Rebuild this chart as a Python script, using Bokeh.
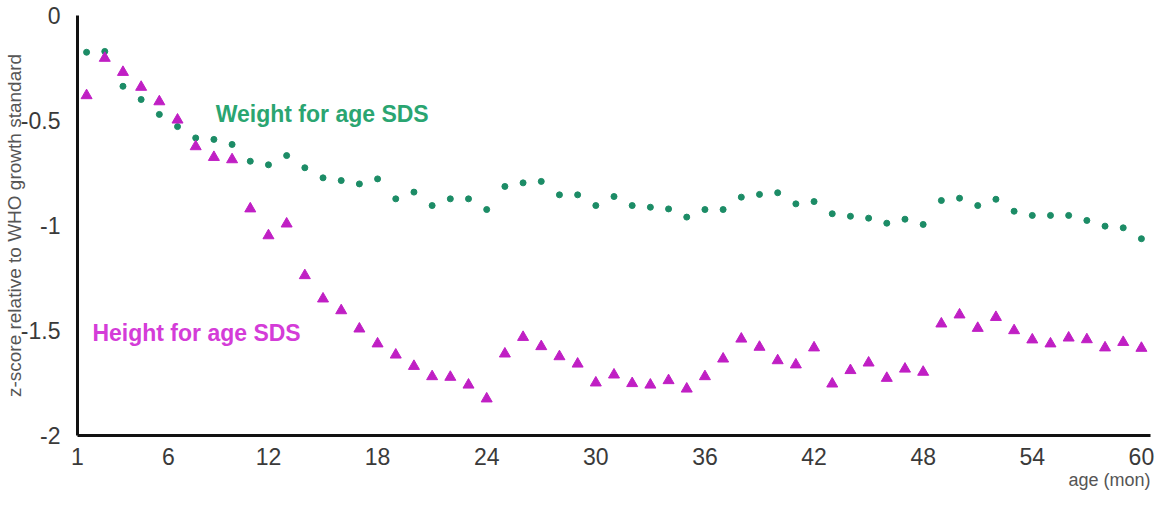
from bokeh.plotting import figure
from bokeh.models import Range1d, FixedTicker, Label, Title
from bokeh.embed import file_html
from bokeh.resources import INLINE

# ---- data -------------------------------------------------------------
age_months = list(range(2, 61))

weight_sds = [
    -0.175, -0.171, -0.337, -0.400, -0.471, -0.529, -0.583, -0.590, -0.614, -0.694,
    -0.711, -0.667, -0.725, -0.773, -0.786, -0.802, -0.778, -0.873, -0.841, -0.905,
    -0.873, -0.873, -0.924, -0.814, -0.797, -0.790, -0.854, -0.854, -0.905, -0.862,
    -0.905, -0.913, -0.921, -0.960, -0.924, -0.924, -0.865, -0.852, -0.844, -0.897,
    -0.886, -0.944, -0.956, -0.965, -0.989, -0.970, -0.995, -0.881, -0.870, -0.905,
    -0.875, -0.932, -0.952, -0.952, -0.952, -0.976, -1.003, -1.011, -1.063,
]

height_sds = [
    -0.381, -0.203, -0.270, -0.341, -0.410, -0.497, -0.624, -0.675, -0.686, -0.920,
    -1.048, -0.992, -1.238, -1.349, -1.405, -1.492, -1.563, -1.616, -1.670, -1.719,
    -1.722, -1.759, -1.825, -1.611, -1.532, -1.576, -1.624, -1.659, -1.749, -1.711,
    -1.752, -1.759, -1.738, -1.778, -1.719, -1.635, -1.540, -1.579, -1.643, -1.663,
    -1.582, -1.754, -1.690, -1.654, -1.727, -1.683, -1.698, -1.468, -1.425, -1.489,
    -1.437, -1.500, -1.544, -1.563, -1.535, -1.543, -1.582, -1.556, -1.584,
]

x_tick_positions = [1.5, 6.5, 12, 18, 24, 30, 36, 42, 48, 54, 60]
x_tick_labels = ["1", "6", "12", "18", "24", "30", "36", "42", "48", "54", "60"]
y_tick_positions = [0, -0.5, -1, -1.5, -2]
y_tick_labels = ["0", "-0.5", "-1", "-1.5", "-2"]

weight_label = "Weight for age SDS"
height_label = "Height for age SDS"
y_title = "z-score relative to WHO growth standard"
x_title = "age (mon)"

# ---- styles -------------------------------------------------------------
FONT = "Liberation Sans"
WEIGHT_COLOR = "#1c8c66"
WEIGHT_TEXT = "#2aa571"
HEIGHT_COLOR = "#c01fc4"
HEIGHT_TEXT = "#d43cd8"
TICK_COLOR = "#3a3a3a"

p = figure(
    width=1166, height=505,
    x_range=Range1d(1.5, 60.5), y_range=Range1d(-2, 0),
    output_backend="svg", toolbar_location=None,
    min_border_left=77, min_border_right=16, min_border_top=15, min_border_bottom=70,
)
p.outline_line_color = None
p.xgrid.visible = False
p.ygrid.visible = False
p.background_fill_color = "white"
p.border_fill_color = "white"

p.scatter(age_months, weight_sds, marker="circle", size=6,
          fill_color=WEIGHT_COLOR, line_color=WEIGHT_COLOR)
p.scatter(age_months, height_sds, marker="triangle", size=11,
          fill_color=HEIGHT_COLOR, line_color=HEIGHT_COLOR)

for ax in (p.xaxis[0], p.yaxis[0]):
    ax.axis_line_color = "#111111"
    ax.axis_line_width = 3
    ax.major_tick_line_color = None
    ax.minor_tick_line_color = None
    ax.major_label_text_font = FONT
    ax.major_label_text_font_size = "23px"
    ax.major_label_text_color = TICK_COLOR

p.xaxis.ticker = FixedTicker(ticks=x_tick_positions)
p.xaxis.major_label_overrides = dict(zip(x_tick_positions, x_tick_labels))
p.xaxis.major_label_standoff = 6
p.yaxis.ticker = FixedTicker(ticks=y_tick_positions)
p.yaxis.major_label_overrides = dict(zip(y_tick_positions, y_tick_labels))
p.yaxis.major_label_standoff = 11

p.yaxis.axis_label = y_title
p.yaxis.axis_label_text_font = FONT
p.yaxis.axis_label_text_font_size = "19px"
p.yaxis.axis_label_text_font_style = "normal"
p.yaxis.axis_label_text_color = "#555555"
p.yaxis.axis_label_standoff = -7

p.add_layout(Title(text=x_title, align="right", text_font=FONT,
                   text_font_size="18px", text_font_style="normal",
                   text_color="#555555", standoff=0), "below")

p.add_layout(Label(x=9.1, y=-0.467, text=weight_label, text_font=FONT,
                   text_font_size="23px", text_font_style="bold",
                   text_color=WEIGHT_TEXT, text_baseline="alphabetic"))
p.add_layout(Label(x=2.32, y=-1.514, text=height_label, text_font=FONT,
                   text_font_size="23px", text_font_style="bold",
                   text_color=HEIGHT_TEXT, text_baseline="alphabetic"))

open("out.html", "w").write(file_html(p, INLINE))
